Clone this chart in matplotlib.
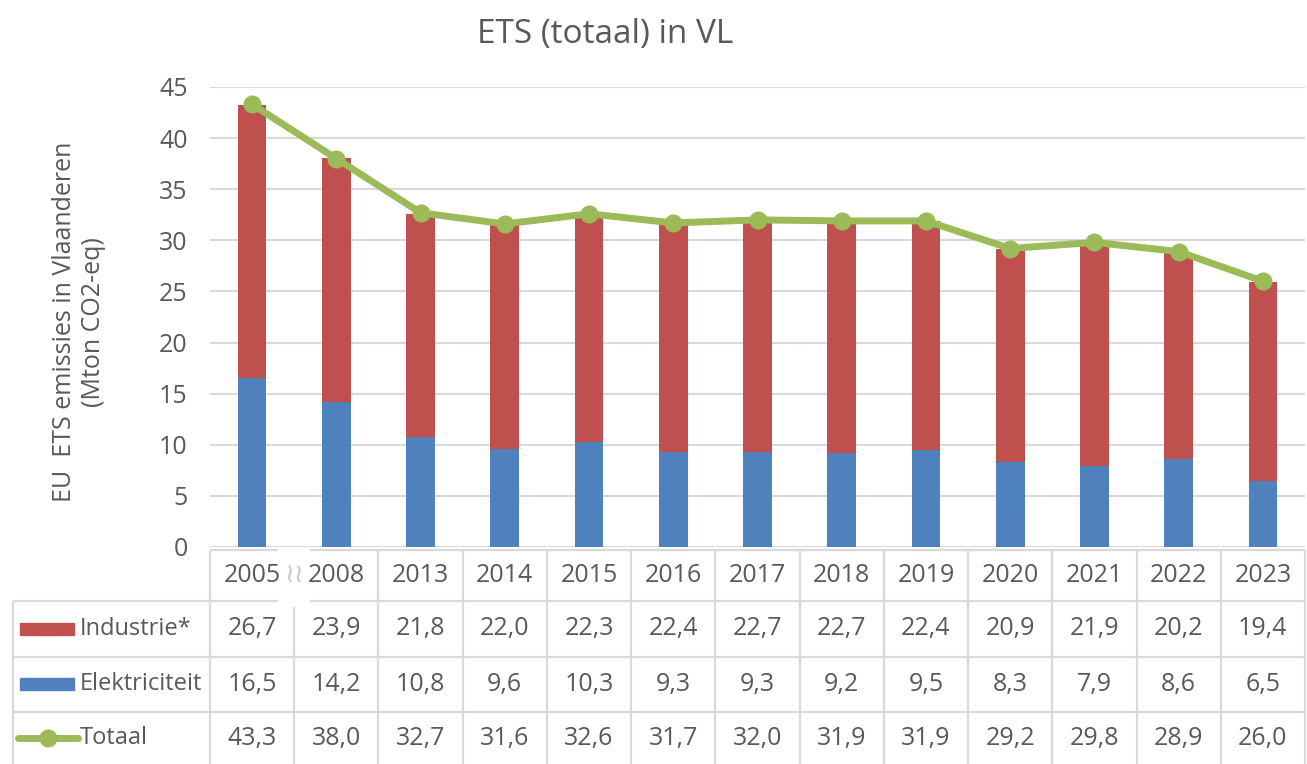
import matplotlib
matplotlib.use("Agg")
import matplotlib.pyplot as plt

#---------------------------------
# Data
#---------------------------------

years = ["2005", "2008", "2013", "2014", "2015", "2016", "2017",
         "2018", "2019", "2020", "2021", "2022", "2023"]
industrie = [26.7, 23.9, 21.8, 22.0, 22.3, 22.4, 22.7, 22.7, 22.4, 20.9, 21.9, 20.2, 19.4]
elektriciteit = [16.5, 14.2, 10.8, 9.6, 10.3, 9.3, 9.3, 9.2, 9.5, 8.3, 7.9, 8.6, 6.5]
totaal = [43.3, 38.0, 32.7, 31.6, 32.6, 31.7, 32.0, 31.9, 31.9, 29.2, 29.8, 28.9, 26.0]
row_names = ["Industrie*", "Elektriciteit", "Totaal"]

#---------------------------------
# Style
#---------------------------------

W, H = 1307, 764
RED = "#C0504D"
BLUE = "#4F81BD"
GREEN = "#9BBB59"
TXT = "#595959"
GRID = "#D9D9D9"

plt.rcParams["font.family"] = ["Open Sans", "DejaVu Sans"]

fig = plt.figure(figsize=(W / 100, H / 100), dpi=100)

# pixel helpers
px_w = 1095 / 13.0  # one category in pixels
def dx(px):
    return (px - 210) / px_w - 0.5

ax = fig.add_axes([210 / W, (H - 547) / H, 1095 / W, 460 / H])
x = list(range(len(years)))

ax.bar(x, elektriciteit, width=0.34, color=BLUE, zorder=2)
ax.bar(x, industrie, width=0.34, bottom=elektriciteit, color=RED, zorder=2)
ax.plot(x, totaal, color=GREEN, lw=5, marker="o", ms=12, zorder=3)

ax.set_xlim(-0.5, 12.5)
ax.set_ylim(0, 45)
ax.set_yticks(range(0, 46, 5))
ax.tick_params(axis="y", length=0, pad=16, labelsize=18, labelcolor=TXT)
ax.set_xticks([])
ax.grid(axis="y", color=GRID, lw=1.5, zorder=0)
for s in ax.spines.values():
    s.set_visible(False)

fig.text(605 / W, 1 - 35 / H, "ETS (totaal) in VL", ha="center", va="center",
         fontsize=24, color=TXT)
fig.text(79 / W, 1 - 322 / H, "EU  ETS emissies in Vlaanderen\n(Mton CO2-eq)",
         rotation=90, ha="center", va="center", fontsize=18, color=TXT,
         linespacing=1.2, multialignment="center")

#---------------------------------
# Data table under the chart
#---------------------------------

tab = fig.add_axes([210 / W, 0, 1095 / W, 216 / H])
tab.set_xlim(-0.5, 12.5)
tab.set_ylim(216, 0)
tab.axis("off")

left = dx(13)
gap0, gap1 = dx(278), dx(310)
lk = dict(color=GRID, lw=1.6, clip_on=False, solid_capstyle="butt")

# horizontal lines
tab.plot([-0.5, gap0], [2, 2], **lk)
tab.plot([gap1, 12.5], [2, 2], **lk)
tab.plot([left, gap0], [53, 53], **lk)
tab.plot([gap1, 12.5], [53, 53], **lk)
for yy in [109, 164]:
    tab.plot([left, 12.5], [yy, yy], **lk)

# vertical lines
tab.plot([left, left], [53, 216], **lk)
for k in range(14):
    xv = k - 0.5
    if k == 1:
        tab.plot([xv, xv], [59, 216], **lk)
    else:
        tab.plot([xv, xv], [2, 216], **lk)

# break sign between 2005 and 2008
tab.text(0.5, 27, "\u2240\u2240", ha="center", va="center", fontsize=19,
         color="#C8C8C8", family="DejaVu Sans")

row_y = [81, 136, 190]
for i, yr in enumerate(years):
    tab.text(i, 27, yr, ha="center", va="center", fontsize=18, color=TXT)
    for vals, yy in zip([industrie, elektriciteit, totaal], row_y):
        tab.text(i, yy, f"{vals[i]:.1f}".replace(".", ","), ha="center",
                 va="center", fontsize=18, color=TXT)

# legend keys
sw0, sw1 = dx(20), dx(74)
for col, yy in zip([RED, BLUE], row_y[:2]):
    tab.add_patch(plt.Rectangle((sw0, yy - 6), sw1 - sw0, 12, color=col, clip_on=False))
tab.plot([dx(18), dx(78)], [row_y[2], row_y[2]], color=GREEN, lw=5,
         solid_capstyle="round", clip_on=False)
tab.plot([dx(48)], [row_y[2]], "o", color=GREEN, ms=12, clip_on=False)

lab_x = dx(80)
for name, yy in zip(row_names, row_y):
    tab.text(lab_x, yy, name, ha="left", va="center", fontsize=17, color=TXT)

fig.savefig("out.png", dpi=100)
